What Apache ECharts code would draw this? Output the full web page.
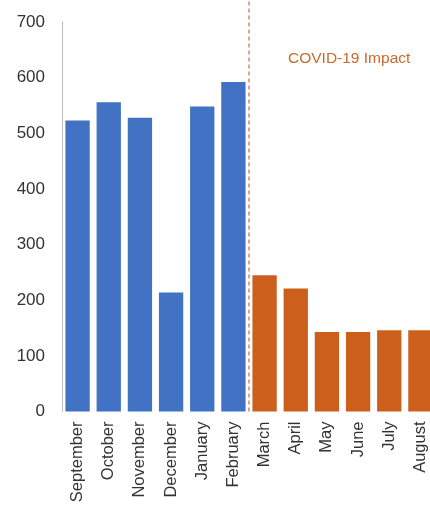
<!DOCTYPE html>
<html><head><meta charset="utf-8">
<script src="https://cdn.jsdelivr.net/npm/echarts@6/dist/echarts.min.js"></script>
<style>html,body{margin:0;padding:0;background:#fff;overflow:hidden}#c{width:436px;height:506px}</style>
</head><body><div id="c"></div>
<script>
const months = ['September','October','November','December','January','February','March','April','May','June','July','August'];
const preCovid = [523, 556, 528, 214, 548, 592, null, null, null, null, null, null];
const covid = [null, null, null, null, null, null, 245, 221, 143, 143, 146, 146];
const yTicks = [0, 100, 200, 300, 400, 500, 600, 700];
const dividerX = [5.5, 5.5];
const dividerY = [0, 1];
const annotation = 'COVID-19 Impact';

const blue = '#4172c4', orange = '#cc5f1c';
const font = 'Liberation Sans, Arial, sans-serif';
const chart = echarts.init(document.getElementById('c'));
chart.setOption({
  animation: false,
  backgroundColor: '#fff',
  grid: [
    { left: 62, right: 0, top: 22, bottom: 94.5 },
    { left: 62, right: 0, top: 0, bottom: 94.5 }
  ],
  title: { text: annotation, left: 283, top: 46, textStyle: { color: '#c8692f', fontSize: 15.5, fontWeight: 'normal', fontFamily: font } },
  xAxis: [{
    type: 'category', data: months, gridIndex: 0,
    axisLine: { show: false }, axisTick: { show: false },
    axisLabel: { rotate: 90, interval: 0, fontSize: 16.5, color: '#333', fontFamily: font, margin: 10 }
  }, {
    type: 'value', gridIndex: 1, min: -0.5, max: months.length - 0.5, show: false
  }],
  yAxis: [{
    type: 'value', gridIndex: 0, min: yTicks[0], max: yTicks[yTicks.length - 1], interval: 100,
    axisLine: { show: true, lineStyle: { color: '#bbb', width: 1 } },
    axisTick: { show: false }, splitLine: { show: false },
    axisLabel: { fontSize: 17, color: '#333', fontFamily: font, margin: 17 }
  }, {
    type: 'value', gridIndex: 1, min: 0, max: 1, show: false
  }],
  series: [
    { type: 'bar', data: preCovid, stack: 'a', barCategoryGap: '22%', itemStyle: { color: blue } },
    { type: 'bar', data: covid, stack: 'a', barCategoryGap: '22%', itemStyle: { color: orange } },
    { type: 'line', xAxisIndex: 1, yAxisIndex: 1, data: dividerX.map((x, i) => [x, dividerY[i]]),
      symbol: 'none', silent: true, z: 5,
      lineStyle: { color: '#c8442b', type: [4, 3], width: 1 } }
  ]
});
</script></body></html>
